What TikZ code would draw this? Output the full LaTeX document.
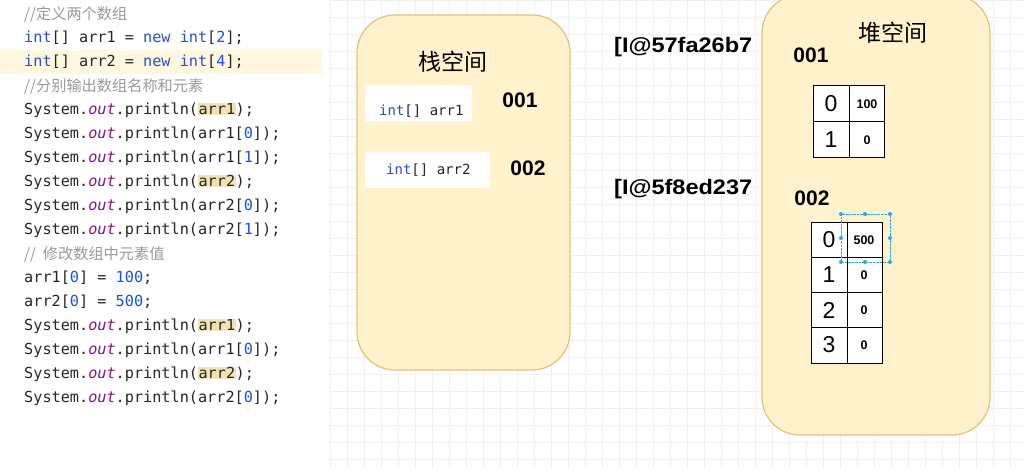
\documentclass[tikz,border=0pt]{standalone}
\usepackage{fontspec}
\setmainfont{Liberation Sans}
\newfontfamily\cjk{Noto Sans CJK SC}
\newfontfamily\code{DejaVu Sans Mono}
\definecolor{kw}{HTML}{2B4FC8}
\definecolor{num}{HTML}{1750EB}
\definecolor{pur}{HTML}{871094}
\definecolor{cmt}{HTML}{9A9A9A}
\definecolor{hl}{HTML}{F3E2B2}
\definecolor{fillY}{HTML}{FFF2CC}
\definecolor{bord}{HTML}{E0C37A}
\definecolor{dotc}{HTML}{29A8E0}
\newcommand{\Kw}[1]{\textcolor{kw}{#1}}
\newcommand{\Nm}[1]{\textcolor{num}{#1}}
\newcommand{\Ou}{\textcolor{pur}{\itshape out}}
\newcommand{\Hl}[1]{\colorbox{hl}{#1}}
\newcommand{\Cm}[1]{\textcolor{cmt}{\cjk\itshape #1}}
\begin{document}
\begin{tikzpicture}[x=1pt,y=-1pt,
  codeln/.style={anchor=west,inner sep=0pt,font=\code\fontsize{15.2}{16}\selectfont,text=black!85},
  box/.style={draw=bord,line width=1.2pt,fill=fillY,rounded corners=38pt},
  lbl/.style={font=\bfseries\fontsize{21}{22}\selectfont,inner sep=0pt},
  addr/.style={font=\bfseries\fontsize{21}{22}\selectfont,inner sep=0pt,xscale=1.12},
  big/.style={font=\fontsize{23}{24}\selectfont,inner sep=0pt},
  small/.style={font=\bfseries\fontsize{12.5}{13}\selectfont,inner sep=0pt},
  cell/.style={draw=black,line width=1pt},
  dot/.style={circle,fill=dotc,inner sep=0pt,minimum size=4pt}]
\useasboundingbox (0,0) rectangle (1024,469);
\fill[white] (0,0) rectangle (1024,469);
\foreach \i in {0,...,41} \draw[black!6] (\i*17+330,0) -- (\i*17+330,469);
\foreach \i in {0,...,27} \draw[black!6] (330,\i*17) -- (1024,\i*17);
\fill[fillY!60] (0,50) rectangle (322,74);
% code
\setlength{\fboxsep}{0.5pt}
\node[codeln] (c1) at (24,14) {\Cm{//定义两个数组}};
\node[codeln] (c2) at (24,38) {\Kw{int}[] arr1 = \Kw{new} \Kw{int}[\Nm{2}];};
\node[codeln] (c3) at (24,62) {\Kw{int}[] arr2 = \Kw{new} \Kw{int}[\Nm{4}];};
\node[codeln] (c4) at (24,86) {\Cm{//分别输出数组名称和元素}};
\node[codeln] (c5) at (24,110) {System.\Ou.println(\Hl{arr1});};
\node[codeln] (c6) at (24,134) {System.\Ou.println(arr1[\Nm{0}]);};
\node[codeln] (c7) at (24,158) {System.\Ou.println(arr1[\Nm{1}]);};
\node[codeln] (c8) at (24,182) {System.\Ou.println(\Hl{arr2});};
\node[codeln] (c9) at (24,206) {System.\Ou.println(arr2[\Nm{0}]);};
\node[codeln] (c10) at (24,230) {System.\Ou.println(arr2[\Nm{1}]);};
\node[codeln] (c11) at (24,254) {\Cm{//\ \ 修改数组中元素值}};
\node[codeln] (c12) at (24,278) {arr1[\Nm{0}] = \Nm{100};};
\node[codeln] (c13) at (24,302) {arr2[\Nm{0}] = \Nm{500};};
\node[codeln] (c14) at (24,326) {System.\Ou.println(\Hl{arr1});};
\node[codeln] (c15) at (24,350) {System.\Ou.println(arr1[\Nm{0}]);};
\node[codeln] (c16) at (24,374) {System.\Ou.println(\Hl{arr2});};
\node[codeln] (c17) at (24,398) {System.\Ou.println(arr2[\Nm{0}]);};
% stack
\draw[box] (357,15) rectangle (570,370);
\node[font=\cjk\fontsize{23}{24}\selectfont] (st) at (453,62) {栈空间};
\fill[white] (365,85) rectangle (472,121);
\fill[white] (365,152) rectangle (490,188);
\node[codeln,font=\code\fontsize{14}{15}\selectfont] (s1) at (379,111) {\Kw{int}[] arr1};
\node[codeln,font=\code\fontsize{14}{15}\selectfont] (s2) at (386,170) {\Kw{int}[] arr2};
\node[lbl] (a1) at (520,100) {001};
\node[lbl] (a2) at (528,168) {002};
% addresses
\node[addr,anchor=west] (p1) at (614,47) {[I@57fa26b7};
\node[addr,anchor=west] (p2) at (614,189) {[I@5f8ed237};
% heap
\draw[box] (762,-5) rectangle (990,435);
\node[font=\cjk\fontsize{23}{24}\selectfont] (hp) at (893,33) {堆空间};
\node[lbl] (h1) at (811,55) {001};
\node[lbl] (h2) at (812,198) {002};
\draw[cell,fill=white] (813,85) rectangle (884,157);
\draw[cell] (813,121) -- (884,121) (849,85) -- (849,157);
\node[big] (t0) at (831,104) {0};
\node[big] (t1) at (831,140) {1};
\node[small] (v0) at (867,104) {100};
\node[small] (v1) at (867,140) {0};
\draw[cell,fill=white] (811,222) rectangle (882,363);
\foreach \y in {257,292,327} \draw[cell] (811,\y) -- (882,\y);
\draw[cell] (847,222) -- (847,363);
\node[big] (u0) at (829,240) {0};
\node[big] (u1) at (829,275) {1};
\node[big] (u2) at (829,310) {2};
\node[big] (u3) at (829,345) {3};
\node[small] (w0) at (864,240) {500};
\node[small] (w1) at (864,275) {0};
\node[small] (w2) at (864,310) {0};
\node[small] (w3) at (864,345) {0};
\draw[dotc,densely dotted] (841,214) rectangle (890,262);
\foreach \x in {841,865,890} {\node[dot] at (\x,214) {}; \node[dot] at (\x,262) {};}
\node[dot] at (841,238) {}; \node[dot] at (890,238) {};
\end{tikzpicture}
\end{document}
